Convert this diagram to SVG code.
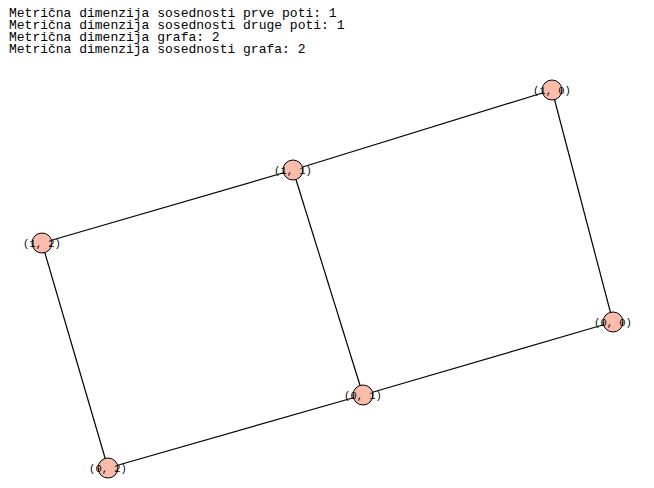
<svg xmlns="http://www.w3.org/2000/svg" width="654" height="488" viewBox="0 0 654 488">
<style>
.hdr{font-family:"Liberation Mono","DejaVu Sans Mono",monospace;font-size:13px;fill:#000}
.edge{stroke:#000;stroke-width:1.2;fill:none}
.node circle{fill:#fbbcab;stroke:#000;stroke-width:1}
.node text{font-family:"Liberation Mono","DejaVu Sans Mono",monospace;font-size:10.5px;fill:#000;text-anchor:middle}
</style>
<rect width="654" height="488" fill="#fff"/>
<g id="header">
<text class="hdr" x="9" y="16.5">Metrična dimenzija sosednosti prve poti: 1</text>
<text class="hdr" x="9" y="28.5">Metrična dimenzija sosednosti druge poti: 1</text>
<text class="hdr" x="9" y="40.5">Metrična dimenzija grafa: 2</text>
<text class="hdr" x="9" y="52.5">Metrična dimenzija sosednosti grafa: 2</text>
</g>
<g id="edges">
<line class="edge" x1="552" y1="90" x2="293" y2="170"/>
<line class="edge" x1="293" y1="170" x2="42" y2="243"/>
<line class="edge" x1="552" y1="90" x2="613" y2="322"/>
<line class="edge" x1="293" y1="170" x2="363" y2="395"/>
<line class="edge" x1="42" y1="243" x2="108" y2="468"/>
<line class="edge" x1="613" y1="322" x2="363" y2="395"/>
<line class="edge" x1="363" y1="395" x2="108" y2="468"/>
</g>
<g id="n10" class="node"><circle cx="552" cy="90" r="10"/><text x="552" y="94">(1, 0)</text></g>
<g id="n11" class="node"><circle cx="293" cy="170" r="10"/><text x="293" y="174">(1, 1)</text></g>
<g id="n12" class="node"><circle cx="42" cy="243" r="10"/><text x="42" y="247">(1, 2)</text></g>
<g id="n00" class="node"><circle cx="613" cy="322" r="10"/><text x="613" y="326">(0, 0)</text></g>
<g id="n01" class="node"><circle cx="363" cy="395" r="10"/><text x="363" y="399">(0, 1)</text></g>
<g id="n02" class="node"><circle cx="108" cy="468" r="10"/><text x="108" y="472">(0, 2)</text></g>
</svg>
